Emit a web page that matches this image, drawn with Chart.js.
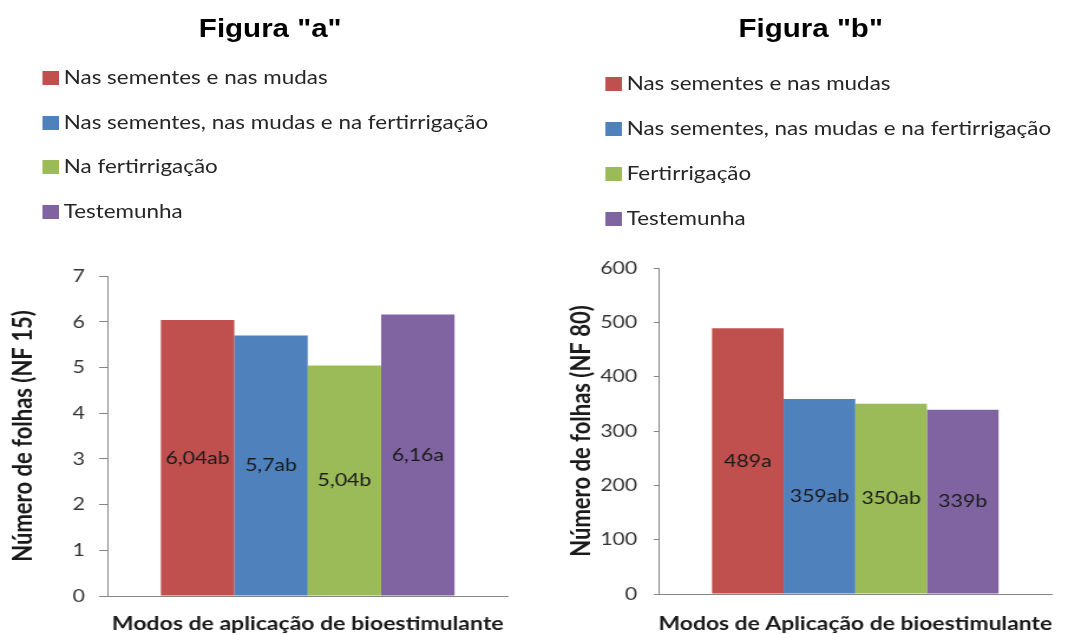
<!DOCTYPE html>
<html>
<head>
<meta charset="utf-8">
<script src="https://cdn.jsdelivr.net/npm/chart.js@4.4.0/dist/chart.umd.min.js"></script>
<style>
  body { margin: 0; background: #fff; }
  #wrap { position: absolute; left: 0; top: 0; width: 916px; height: 635px; transform: scaleX(1.1801); transform-origin: 0 0; overflow: hidden; }
  .title { position: absolute; top: 14px; width: 458px; text-align: center; font: bold 25px "Liberation Sans", Arial, sans-serif; color: #000; }
  .leg { position: absolute; font: 19px Lato, sans-serif; color: #262626; white-space: nowrap; line-height: 20px; }
  .leg span { display: inline-block; width: 14px; height: 14px; margin-right: 4px; vertical-align: -1px; }
  canvas { position: absolute; top: 250px; }
</style>
</head>
<body>
<div id="wrap">
  <div class="title" style="left:0">Figura "a"</div>
  <div class="title" style="left:458px">Figura "b"</div>
  <div id="legA"></div>
  <div id="legB"></div>
  <canvas id="chartA" width="458" height="385" style="left:0"></canvas>
  <canvas id="chartB" width="458" height="385" style="left:458px"></canvas>
</div>
<script>
var colors = ["#C0504D", "#4F81BD", "#9BBB59", "#8064A2"];

var seriesA = ["Nas sementes e nas mudas", "Nas sementes, nas mudas e na fertirrigação", "Na fertirrigação", "Testemunha"];
var valuesA = [6.04, 5.7, 5.04, 6.16];
var labelsA = ["6,04ab", "5,7ab", "5,04b", "6,16a"];

var seriesB = ["Nas sementes e nas mudas", "Nas sementes, nas mudas e na fertirrigação", "Fertirrigação", "Testemunha"];
var valuesB = [489, 359, 350, 339];
var labelsB = ["489a", "359ab", "350ab", "339b"];

function buildLegend(id, names, left, top, step) {
  var box = document.getElementById(id);
  for (var i = 0; i < names.length; i++) {
    var row = document.createElement("div");
    row.className = "leg";
    row.style.left = left + "px";
    row.style.top = (top + i * step) + "px";
    var sq = document.createElement("span");
    sq.style.background = colors[i];
    row.appendChild(sq);
    row.appendChild(document.createTextNode(names[i]));
    box.appendChild(row);
  }
}
buildLegend("legA", seriesA, 36, 67, 44.7);
buildLegend("legB", seriesB, 513, 73, 45);

// value labels in the middle of each bar
var barText = {
  id: "barText",
  afterDatasetsDraw: function(chart) {
    var ctx = chart.ctx;
    var texts = chart.options.plugins.barText.texts;
    ctx.save();
    ctx.font = "18px Lato, sans-serif";
    ctx.fillStyle = "#1a1a1a";
    ctx.textAlign = "center";
    ctx.textBaseline = "middle";
    chart.data.datasets.forEach(function(ds, i) {
      var bar = chart.getDatasetMeta(i).data[0];
      ctx.fillText(texts[i], bar.x, (bar.y + bar.base) / 2);
    });
    ctx.restore();
  }
};

function makeChart(id, names, values, texts, opt) {
  var datasets = [];
  for (var i = 0; i < names.length; i++) {
    datasets.push({
      label: names[i],
      data: [values[i]],
      backgroundColor: colors[i],
      borderWidth: 0
    });
  }
  return new Chart(document.getElementById(id), {
    type: "bar",
    data: { labels: [""], datasets: datasets },
    plugins: [barText],
    options: {
      responsive: false,
      animation: false,
      devicePixelRatio: 1,
      categoryPercentage: opt.catPct,
      barPercentage: 1,
      layout: { autoPadding: false, padding: { top: opt.padTop, right: opt.padRight, left: 0, bottom: 0 } },
      plugins: {
        legend: { display: false },
        tooltip: { enabled: false },
        barText: { texts: texts }
      },
      scales: {
        x: {
          grid: { display: false },
          border: { display: true, color: "#868686", width: 1 },
          ticks: { display: false },
          title: {
            display: true,
            text: opt.xTitle,
            color: "#1a1a1a",
            font: { family: "Lato", size: 19.5, weight: "bold" },
            padding: { top: 0, bottom: 0 }
          },
          afterFit: function(s) { s.height = opt.xHeight; }
        },
        y: {
          min: 0,
          max: opt.max,
          ticks: { stepSize: opt.step, color: "#333", font: { family: "Lato", size: 18 }, padding: opt.tickPad },
          grid: { drawOnChartArea: false, drawTicks: true, tickLength: opt.tickLen, color: "#868686" },
          border: { display: true, color: "#868686", width: 1 },
          title: {
            display: true,
            text: opt.yTitle,
            color: "#1a1a1a",
            font: { family: "Lato", size: 22, weight: "bold" },
            padding: { top: opt.yTitlePad, bottom: 0 }
          },
          afterFit: function(s) {
            s.width = opt.yWidth;
            s.paddingTop = 0;
            s.paddingBottom = 0;
          }
        }
      }
    }
  });
}

makeChart("chartA", seriesA, valuesA, labelsA, {
  max: 7, step: 1, catPct: 0.733,
  padTop: 26, padRight: 27.5, xHeight: 39, yWidth: 91,
  tickLen: 7, tickPad: 12, yTitlePad: 6.3,
  xTitle: "Modos de aplicação de bioestimulante",
  yTitle: "Número de folhas (NF 15)"
});

makeChart("chartB", seriesB, valuesB, labelsB, {
  max: 600, step: 100, catPct: 0.728,
  padTop: 18, padRight: 24.5, xHeight: 41, yWidth: 100,
  tickLen: 4, tickPad: 14, yTitlePad: 22,
  xTitle: "Modos de Aplicação de bioestimulante",
  yTitle: "Número de folhas (NF 80)"
});
</script>
</body>
</html>
